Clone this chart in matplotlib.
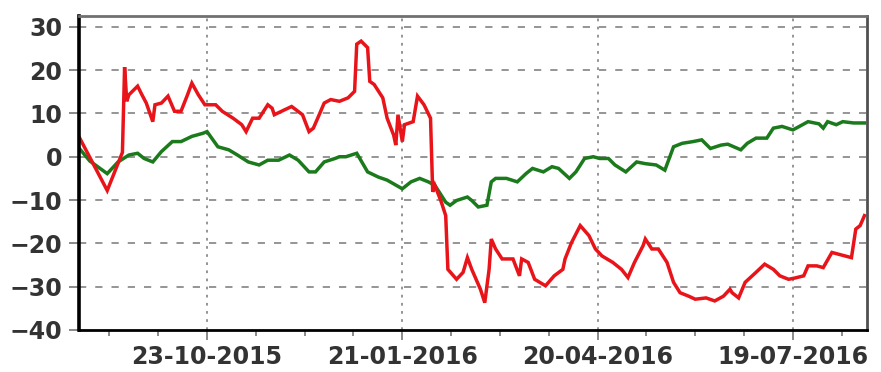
import matplotlib
matplotlib.use('Agg')
import matplotlib.pyplot as plt
import matplotlib.dates as mdates
import pandas as pd
import numpy as np

# values
red_dates = ['2015-08-25', '2015-09-07', '2015-09-14', '2015-09-15', '2015-09-16', '2015-09-17',
             '2015-09-21', '2015-09-23', '2015-09-25', '2015-09-28', '2015-09-29', '2015-10-02',
             '2015-10-05', '2015-10-08', '2015-10-11', '2015-10-14', '2015-10-16', '2015-10-19',
             '2015-10-22', '2015-10-24', '2015-10-27', '2015-10-30', '2015-11-04', '2015-11-08',
             '2015-11-10', '2015-11-13', '2015-11-16', '2015-11-20', '2015-11-22', '2015-11-23',
             '2015-11-28', '2015-12-01', '2015-12-06', '2015-12-09', '2015-12-11', '2015-12-13',
             '2015-12-16', '2015-12-19', '2015-12-23', '2015-12-27', '2015-12-30', '2015-12-31',
             '2016-01-02', '2016-01-05', '2016-01-06', '2016-01-08', '2016-01-12', '2016-01-14',
             '2016-01-17', '2016-01-18', '2016-01-19', '2016-01-21', '2016-01-22', '2016-01-26',
             '2016-01-28', '2016-01-31', '2016-02-03', '2016-02-04', '2016-02-05', '2016-02-08',
             '2016-02-10', '2016-02-11', '2016-02-15', '2016-02-18', '2016-02-20', '2016-02-22',
             '2016-02-26', '2016-02-28', '2016-03-01', '2016-03-02', '2016-03-04', '2016-03-07',
             '2016-03-12', '2016-03-15', '2016-03-16', '2016-03-19', '2016-03-22', '2016-03-27',
             '2016-03-31', '2016-04-04', '2016-04-05', '2016-04-08', '2016-04-12', '2016-04-16',
             '2016-04-19', '2016-04-22', '2016-04-27', '2016-05-01', '2016-05-04', '2016-05-07',
             '2016-05-11', '2016-05-12', '2016-05-15', '2016-05-18', '2016-05-22', '2016-05-25',
             '2016-05-28', '2016-06-01', '2016-06-04', '2016-06-09', '2016-06-13', '2016-06-17',
             '2016-06-20', '2016-06-21', '2016-06-24', '2016-06-27', '2016-07-02', '2016-07-06',
             '2016-07-10', '2016-07-13', '2016-07-17', '2016-07-20', '2016-07-24', '2016-07-26',
             '2016-07-30', '2016-08-02', '2016-08-06', '2016-08-09', '2016-08-15', '2016-08-17',
             '2016-08-19', '2016-08-21']
red_vals = [4.6, -7.8, 1.0, 20.7, 12.8, 14.3,
            16.3, 14.3, 12.4, 8.1, 12.0, 12.4,
            14.0, 10.5, 10.5, 14.3, 17.0, 14.3,
            12.0, 12.0, 12.0, 10.5, 8.9, 7.4,
            5.8, 8.9, 8.9, 12.0, 11.2, 9.7,
            10.9, 11.6, 9.7, 5.8, 6.6, 8.9,
            12.4, 13.2, 12.8, 13.6, 15.1, 26.0,
            26.7, 25.2, 17.4, 16.7, 13.6, 8.9,
            5.0, 2.7, 9.7, 3.5, 7.4, 8.1,
            14.0, 12.0, 8.9, -8.1, -6.6, -10.5,
            -13.6, -26.0, -28.3, -26.7, -23.3, -26.0,
            -30.6, -33.7, -26.0, -19.0, -21.3, -23.6,
            -23.6, -27.5, -23.6, -24.4, -28.3, -29.8,
            -27.5, -26.0, -23.6, -19.8, -15.9, -18.2,
            -21.3, -22.9, -24.4, -26.0, -27.9, -24.4,
            -20.5, -19.0, -21.3, -21.3, -24.4, -29.0,
            -31.4, -32.2, -32.9, -32.6, -33.3, -32.2,
            -30.6, -31.4, -32.6, -29.0, -26.7, -24.8,
            -26.0, -27.5, -28.3, -28.0, -27.5, -25.2,
            -25.2, -25.6, -22.1, -22.5, -23.3, -16.7,
            -15.9, -13.6]

green_dates = ['2015-08-25', '2015-08-30', '2015-09-07', '2015-09-12', '2015-09-17', '2015-09-21',
               '2015-09-24', '2015-09-28', '2015-10-02', '2015-10-07', '2015-10-11', '2015-10-16',
               '2015-10-21', '2015-10-23', '2015-10-28', '2015-11-02', '2015-11-06', '2015-11-11',
               '2015-11-16', '2015-11-20', '2015-11-25', '2015-11-30', '2015-12-04', '2015-12-09',
               '2015-12-12', '2015-12-16', '2015-12-21', '2015-12-23', '2015-12-26', '2015-12-31',
               '2016-01-05', '2016-01-10', '2016-01-14', '2016-01-21', '2016-01-25', '2016-01-29',
               '2016-02-02', '2016-02-05', '2016-02-10', '2016-02-12', '2016-02-15', '2016-02-20',
               '2016-02-22', '2016-02-25', '2016-02-29', '2016-03-02', '2016-03-04', '2016-03-09',
               '2016-03-14', '2016-03-18', '2016-03-21', '2016-03-26', '2016-03-30', '2016-04-02',
               '2016-04-07', '2016-04-10', '2016-04-14', '2016-04-18', '2016-04-21', '2016-04-25',
               '2016-04-28', '2016-05-03', '2016-05-08', '2016-05-12', '2016-05-17', '2016-05-21',
               '2016-05-25', '2016-05-29', '2016-06-03', '2016-06-07', '2016-06-11', '2016-06-16',
               '2016-06-19', '2016-06-25', '2016-06-28', '2016-07-02', '2016-07-07', '2016-07-10',
               '2016-07-14', '2016-07-19', '2016-07-22', '2016-07-26', '2016-07-31', '2016-08-02',
               '2016-08-04', '2016-08-08', '2016-08-11', '2016-08-16', '2016-08-21']
green_vals = [2.0, -1.0, -3.9, -1.2, 0.4, 0.8,
              -0.4, -1.2, 1.2, 3.5, 3.5, 4.7,
              5.4, 5.8, 2.3, 1.6, 0.4, -1.2,
              -1.9, -0.8, -0.8, 0.4, -0.8, -3.5,
              -3.5, -1.2, -0.4, 0.0, 0.0, 0.8,
              -3.5, -4.7, -5.4, -7.4, -5.8, -5.0,
              -5.8, -6.6, -10.5, -11.2, -10.1, -9.3,
              -10.1, -11.6, -11.2, -5.8, -5.0, -5.0,
              -5.8, -3.9, -2.7, -3.5, -2.3, -2.7,
              -5.0, -3.5, -0.4, 0.0, -0.4, -0.4,
              -1.9, -3.5, -1.2, -1.6, -1.9, -3.1,
              2.3, 3.1, 3.5, 3.9, 1.9, 2.7,
              2.9, 1.6, 3.1, 4.3, 4.3, 6.6,
              7.0, 6.2, 7.0, 8.1, 7.6, 6.6,
              8.1, 7.4, 8.1, 7.8, 7.8]

y_ticks = [-40, -30, -20, -10, 0, 10, 20, 30]
x_tick_dates = ['2015-10-23', '2016-01-21', '2016-04-20', '2016-07-19']

red = pd.Series(red_vals, index=pd.to_datetime(red_dates))
green = pd.Series(green_vals, index=pd.to_datetime(green_dates))

fig = plt.figure(figsize=(8.81, 3.72), dpi=100)
ax = fig.add_axes([0.0897, 0.113, 0.894, 0.844])

ax.plot(green.index, green.values, color='#1b7a1b', lw=2.5, solid_joinstyle='miter')
ax.plot(red.index, red.values, color='#e8141a', lw=2.5, solid_joinstyle='miter')

major = mdates.date2num(pd.to_datetime(x_tick_dates))
minor = np.arange(major[0] - 67.5, major[-1] + 45, 22.5)
ax.set_xticks(major)
ax.set_xticks(minor, minor=True)
ax.xaxis.set_major_formatter(mdates.DateFormatter('%d-%m-%Y'))
ax.set_yticks(y_ticks)

# limits after the ticks so the tick setters don't widen the view
ax.set_xlim(pd.Timestamp('2015-08-25'), pd.Timestamp('2016-08-22'))
ax.set_ylim(-40, 32.5)

for yv in y_ticks[1:]:
    ax.axhline(yv, color='#8c8c8c', lw=1.3, ls=(0, (4, 5)), zorder=0)
for xv in major:
    ax.axvline(xv, color='#8c8c8c', lw=1.3, ls=(0, (1.5, 3)), zorder=0)

ax.tick_params(axis='both', which='major', labelsize=17, labelcolor='#333333',
               color='#777777', length=7, width=1.2)
ax.tick_params(axis='x', which='minor', color='#777777', length=4, width=1.2)
ax.tick_params(axis='x', pad=4)
ax.tick_params(axis='y', pad=5)
for lab in ax.get_xticklabels() + ax.get_yticklabels():
    lab.set_fontweight('bold')
    lab.set_family('DejaVu Sans')

ax.spines['left'].set_color('black')
ax.spines['left'].set_linewidth(2.6)
ax.spines['bottom'].set_color('black')
ax.spines['bottom'].set_linewidth(2.0)
ax.spines['top'].set_color('#707070')
ax.spines['top'].set_linewidth(2.0)
ax.spines['right'].set_color('#505050')
ax.spines['right'].set_linewidth(2.0)

fig.savefig('out.png', dpi=100)
